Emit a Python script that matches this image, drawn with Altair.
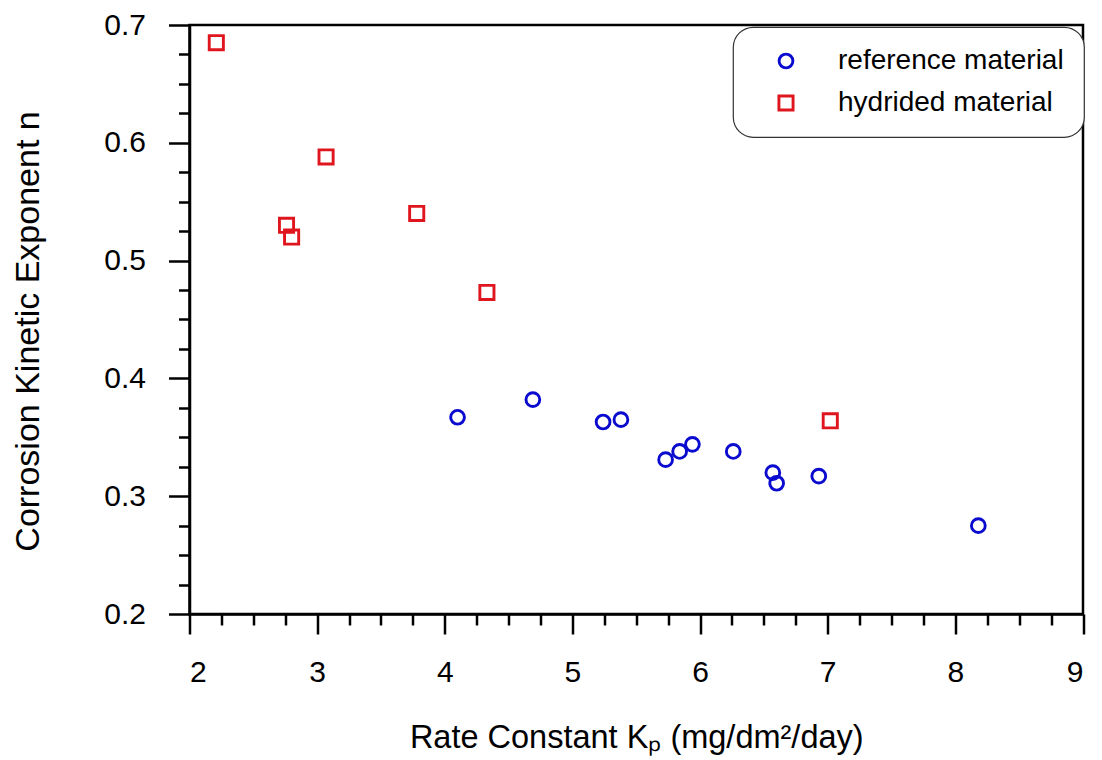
import altair as alt
import pandas as pd

# Reference (non-hydrided) specimens: rate constant Kp and kinetic exponent n
ref_kp = [4.10, 4.69, 5.24, 5.38, 5.73, 5.84, 5.94, 6.26, 6.57, 6.60, 6.93, 8.18]
ref_n = [0.367, 0.382, 0.363, 0.365, 0.331, 0.338, 0.344, 0.338, 0.320, 0.311, 0.317, 0.275]

# Hydrided specimens
hyd_kp = [2.21, 2.76, 2.80, 3.07, 3.78, 4.33, 7.02]
hyd_n = [0.685, 0.530, 0.520, 0.588, 0.540, 0.473, 0.364]

series_names = ["reference material", "hydrided material"]
series_colors = ["#0b0bd0", "#e0161e"]
series_shapes = ["circle", "square"]
series_sizes = [190, 200]

# Axis tick positions
x_major = [2, 3, 4, 5, 6, 7, 8, 9]
x_minor = [2.25, 2.5, 2.75, 3.25, 3.5, 3.75, 4.25, 4.5, 4.75, 5.25, 5.5, 5.75,
           6.25, 6.5, 6.75, 7.25, 7.5, 7.75, 8.25, 8.5, 8.75]
y_major = [0.2, 0.3, 0.4, 0.5, 0.6, 0.7]
y_minor = [0.225, 0.25, 0.275, 0.325, 0.35, 0.375, 0.425, 0.45, 0.475,
           0.525, 0.55, 0.575, 0.625, 0.65, 0.675]

df = pd.DataFrame({
    "kp": ref_kp + hyd_kp,
    "n": ref_n + hyd_n,
    "series": [series_names[0]] * len(ref_kp) + [series_names[1]] * len(hyd_kp),
})

FONT = "Liberation Sans"
x_scale = alt.Scale(domain=[2, 9], nice=False, zero=False)
y_scale = alt.Scale(domain=[0.2, 0.7], nice=False, zero=False)

# Invisible layer that only carries the minor-tick axes
minor = alt.Chart(df).mark_point(opacity=0).encode(
    x=alt.X("kp:Q", scale=x_scale,
            axis=alt.Axis(values=x_minor, orient="bottom", tickSize=11, labels=False,
                          domain=False, grid=False, title=None)),
    y=alt.Y("n:Q", scale=y_scale,
            axis=alt.Axis(values=y_minor, orient="left", tickSize=11, labels=False,
                          domain=False, grid=False, title=None)),
)

points = alt.Chart(df).mark_point(filled=False, strokeWidth=2.9, opacity=1).encode(
    x=alt.X("kp:Q", scale=x_scale,
            axis=alt.Axis(values=x_major, orient="bottom", tickSize=20, labelPadding=23,
                          labelFontSize=30, format="d", grid=False,
                          title="Rate Constant K\u209a (mg/dm\u00b2/day)",
                          titleFontSize=32.5, titleFontWeight="normal",
                          titleBaseline="middle", titleY=123)),
    y=alt.Y("n:Q", scale=y_scale,
            axis=alt.Axis(values=y_major, orient="left", tickSize=21, labelPadding=23,
                          labelFontSize=30, format=".1f", grid=False,
                          title="Corrosion Kinetic Exponent n",
                          titleFontSize=34, titleFontWeight="normal",
                          titleAngle=270, titleBaseline="middle", titleAlign="center",
                          titleX=-161, titleY=306)),
    color=alt.Color("series:N",
                    scale=alt.Scale(domain=series_names, range=series_colors),
                    legend=alt.Legend(title=None)),
    shape=alt.Shape("series:N",
                    scale=alt.Scale(domain=series_names, range=series_shapes),
                    legend=alt.Legend(title=None)),
    size=alt.Size("series:N",
                  scale=alt.Scale(domain=series_names, range=series_sizes),
                  legend=None),
)

chart = (
    alt.layer(minor, points)
    .resolve_axis(x="independent", y="independent")
    .properties(
        width=893.5,
        height=589,
        autosize=alt.AutoSizeParams(type="none"),
        padding={"left": 189.5, "top": 25, "right": 19, "bottom": 146},
        background="white",
    )
    .configure_view(stroke="black", strokeWidth=2.5)
    .configure_axis(
        domainColor="black", domainWidth=2.5, tickColor="black", tickWidth=2.5,
        labelColor="black", titleColor="black", labelFont=FONT, titleFont=FONT,
    )
    .configure_legend(
        orient="none", legendX=543.5, legendY=2,
        strokeColor="#333333", strokeWidth=1.2, cornerRadius=20, fillColor="white",
        padding=20, labelFont=FONT, labelFontSize=28, labelColor="black", labelLimit=400,
        symbolSize=130, symbolStrokeWidth=2.9, symbolOffset=19, labelOffset=38,
        rowPadding=14,
    )
)

chart.save("out.html", embed_options={"renderer": "svg", "actions": False})
